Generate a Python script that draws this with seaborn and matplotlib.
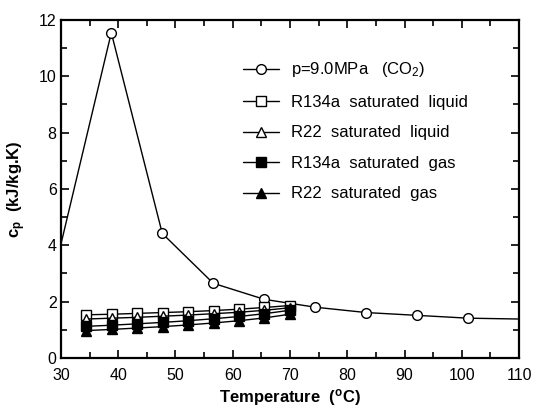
import matplotlib
matplotlib.use("Agg")
import matplotlib.pyplot as plt
import seaborn as sns
import numpy as np
from matplotlib.ticker import MultipleLocator

# ---- data ----
co2_T = [29.9, 38.8, 47.7, 56.6, 65.5, 74.4, 83.3, 92.2, 101.1, 110.0]
co2_cp = [3.95, 11.55, 4.42, 2.65, 2.08, 1.80, 1.61, 1.51, 1.41, 1.38]

ref_T = [34.4, 38.85, 43.3, 47.75, 52.2, 56.65, 61.1, 65.55, 70.0]
r134a_liq = [1.53, 1.55, 1.58, 1.61, 1.64, 1.68, 1.73, 1.79, 1.86]
r22_liq = [1.38, 1.41, 1.44, 1.48, 1.52, 1.57, 1.62, 1.69, 1.78]
r134a_gas = [1.12, 1.16, 1.21, 1.26, 1.32, 1.39, 1.47, 1.57, 1.69]
r22_gas = [0.97, 1.01, 1.06, 1.11, 1.17, 1.24, 1.32, 1.42, 1.55]

labels = [r"p=9.0MPa   (CO$_2$)",
          "R134a  saturated  liquid",
          "R22  saturated  liquid",
          "R134a  saturated  gas",
          "R22  saturated  gas"]

sns.set_style("ticks")
plt.rcParams['font.family'] = ['Liberation Sans', 'DejaVu Sans']
plt.rcParams['mathtext.fontset'] = 'custom'
plt.rcParams['mathtext.rm'] = 'Liberation Sans'
plt.rcParams['mathtext.it'] = 'Liberation Sans:italic'
plt.rcParams['mathtext.bf'] = 'Liberation Sans:bold'
plt.rcParams['text.color'] = 'black'
plt.rcParams['axes.labelcolor'] = 'black'
plt.rcParams['xtick.color'] = 'black'
plt.rcParams['ytick.color'] = 'black'

fig = plt.figure(figsize=(5.39, 4.09), dpi=100)
ax = fig.add_axes([0.113, 0.125, 0.85, 0.826])

lw = 1.0
sns.lineplot(x=co2_T, y=co2_cp, ax=ax, color='black', lw=lw, marker='o',
             markersize=7, markerfacecolor='white', markeredgecolor='black',
             markeredgewidth=1.0, markevery=list(range(1, len(co2_T) - 1)),
             sort=False, errorbar=None, label=labels[0])

series = [(r134a_liq, 's', 'white'), (r22_liq, '^', 'white'),
          (r134a_gas, 's', 'black'), (r22_gas, '^', 'black')]
for (vals, mk, fc), lab in zip(series, labels[1:]):
    sns.lineplot(x=ref_T, y=vals, ax=ax, color='black', lw=lw, marker=mk,
                 markersize=7.5, markerfacecolor=fc, markeredgecolor='black',
                 markeredgewidth=1.0, sort=False, errorbar=None, label=lab)

ax.set_xlim(30, 110)
ax.set_ylim(0, 12)
ax.xaxis.set_major_locator(MultipleLocator(10))
ax.xaxis.set_minor_locator(MultipleLocator(5))
ax.yaxis.set_major_locator(MultipleLocator(2))
ax.yaxis.set_minor_locator(MultipleLocator(1))
ax.tick_params(which='both', direction='in', top=True, right=True,
               width=1.2, colors='black', labelsize=11.5)
ax.tick_params(which='major', length=6, pad=3)
ax.tick_params(axis='x', which='major', pad=7)
ax.tick_params(which='minor', length=4)
for s in ax.spines.values():
    s.set_visible(True)
    s.set_linewidth(1.6)
    s.set_color('black')

ax.set_xlabel(r"Temperature  ($^\mathbf{o}$C)", fontsize=12,
              fontweight='bold', labelpad=3)
ax.set_ylabel(r"$\mathbf{c_p}$  (kJ/kg.K)", fontsize=12,
              fontweight='bold', labelpad=8)

leg = ax.legend(loc='upper left', bbox_to_anchor=(0.382, 0.9), frameon=False,
                fontsize=12, handlelength=2.2, handletextpad=0.7,
                labelspacing=0.93, borderaxespad=0)

fig.savefig("out.png", dpi=100)
